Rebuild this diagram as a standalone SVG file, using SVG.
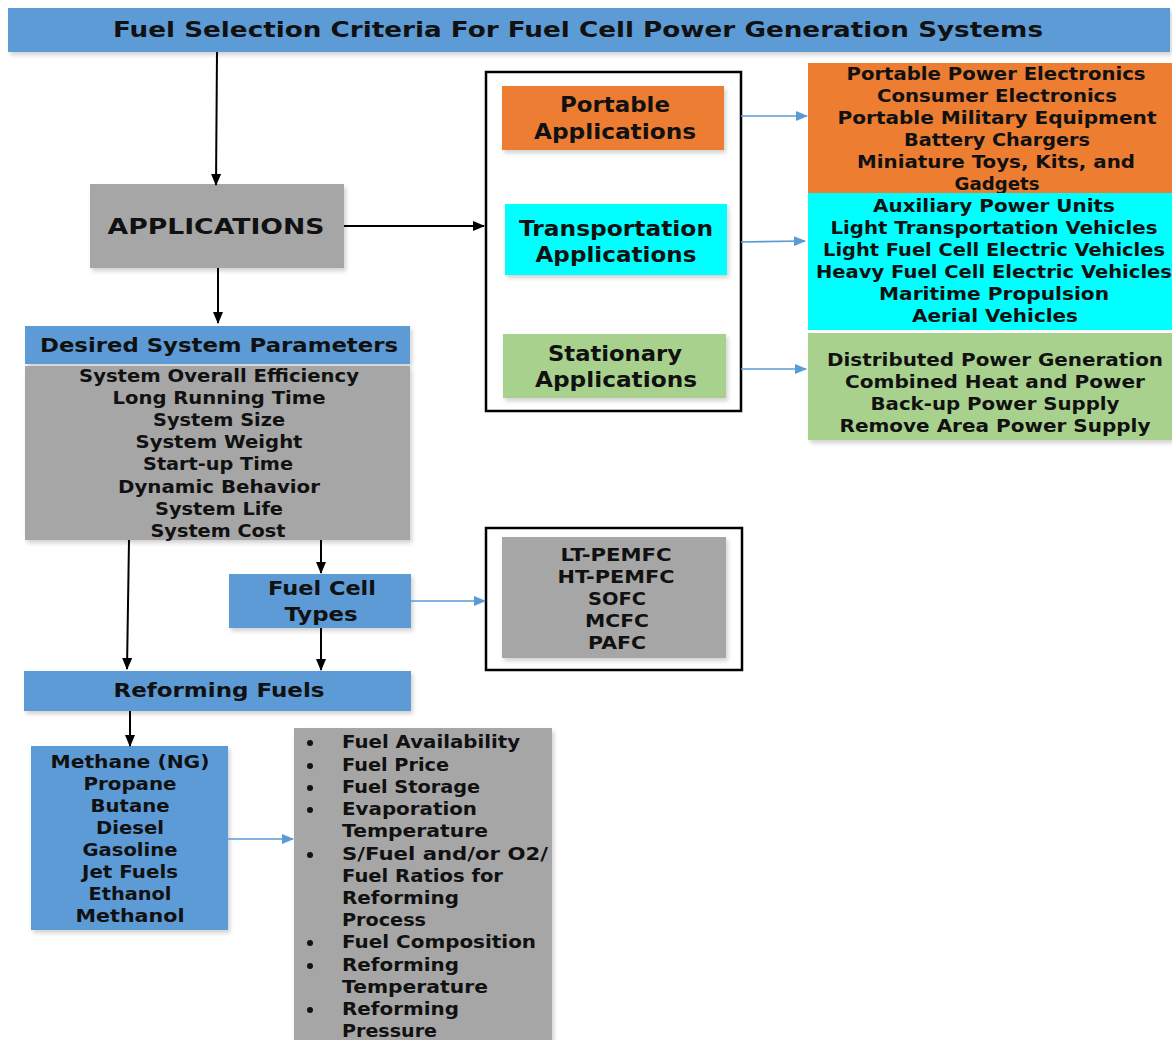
<svg xmlns="http://www.w3.org/2000/svg" width="1172" height="1040" viewBox="0 0 1172 1040">
<defs>
<filter id="sh" x="-5%" y="-5%" width="115%" height="120%">
<feDropShadow dx="2" dy="3" stdDeviation="2" flood-color="#000" flood-opacity="0.18"/>
</filter>
<marker id="ab" markerWidth="12" markerHeight="10" refX="11" refY="5" orient="auto" markerUnits="userSpaceOnUse">
<path d="M0,0 L12,5 L0,10 Z" fill="#000"/>
</marker>
<marker id="au" markerWidth="12" markerHeight="10" refX="11" refY="5" orient="auto" markerUnits="userSpaceOnUse">
<path d="M0,0 L12,5 L0,10 Z" fill="#5b9bd5"/>
</marker>
</defs>
<style>
text{font-family:"DejaVu Sans","Liberation Sans",sans-serif;font-weight:bold;fill:#111;text-anchor:middle}
.t{font-size:21px}
.m{font-size:20px}
.s{font-size:17px}
.l{text-anchor:start}
.blue{fill:#5b9bd5}
.gray{fill:#a6a6a6}
.orange{fill:#ed7d31}
.cyan{fill:#00ffff}
.green{fill:#a9d18e}
.frame{fill:none;stroke:#000;stroke-width:2.5}
.cb{stroke:#000;stroke-width:2;fill:none}
.cu{stroke:#5b9bd5;stroke-width:1.6;fill:none}
</style>

<g id="title">
<rect class="blue" x="8" y="8" width="1162" height="44" filter="url(#sh)"/>
<text class="t" x="578" y="37" textLength="930" lengthAdjust="spacingAndGlyphs">Fuel Selection Criteria For Fuel Cell Power Generation Systems</text>
</g>

<g id="applications">
<rect class="gray" x="90" y="184" width="254" height="84" filter="url(#sh)"/>
<text style="font-size:22px" x="216" y="234" textLength="217" lengthAdjust="spacingAndGlyphs">APPLICATIONS</text>
</g>

<g id="app-frame">
<rect class="frame" x="486" y="72" width="255" height="339"/>
</g>

<g id="portable">
<rect class="orange" x="502" y="86" width="222" height="64" filter="url(#sh)"/>
<text class="t" x="615" y="112" textLength="110" lengthAdjust="spacingAndGlyphs">Portable</text>
<text class="t" x="615" y="139" textLength="162" lengthAdjust="spacingAndGlyphs">Applications</text>
</g>

<g id="transportation">
<rect class="cyan" x="505" y="204" width="222" height="71" filter="url(#sh)"/>
<text class="t" x="616" y="236" textLength="194" lengthAdjust="spacingAndGlyphs">Transportation</text>
<text class="t" x="616" y="262" textLength="161" lengthAdjust="spacingAndGlyphs">Applications</text>
</g>

<g id="stationary">
<rect class="green" x="503" y="334" width="223" height="64" filter="url(#sh)"/>
<text class="t" x="615" y="361" textLength="134" lengthAdjust="spacingAndGlyphs">Stationary</text>
<text class="t" x="616" y="387" textLength="162" lengthAdjust="spacingAndGlyphs">Applications</text>
</g>

<g id="portable-list">
<rect class="orange" x="808" y="63" width="364" height="130"/>
<text class="s" x="996" y="80" textLength="299" lengthAdjust="spacingAndGlyphs">Portable Power Electronics</text>
<text class="s" x="997" y="102" textLength="240" lengthAdjust="spacingAndGlyphs">Consumer Electronics</text>
<text class="s" x="997" y="124" textLength="319" lengthAdjust="spacingAndGlyphs">Portable Military Equipment</text>
<text class="s" x="997" y="146" textLength="186" lengthAdjust="spacingAndGlyphs">Battery Chargers</text>
<text class="s" x="996" y="168" textLength="278" lengthAdjust="spacingAndGlyphs">Miniature Toys, Kits, and</text>
<text class="s" x="997" y="190" textLength="85" lengthAdjust="spacingAndGlyphs">Gadgets</text>
</g>

<g id="transport-list">
<rect class="cyan" x="808" y="193" width="364" height="137"/>
<text class="s" x="994" y="212" textLength="242" lengthAdjust="spacingAndGlyphs">Auxiliary Power Units</text>
<text class="s" x="994" y="234" textLength="327" lengthAdjust="spacingAndGlyphs">Light Transportation Vehicles</text>
<text class="s" x="994" y="256" textLength="342" lengthAdjust="spacingAndGlyphs">Light Fuel Cell Electric Vehicles</text>
<text class="s" x="994" y="278" textLength="356" lengthAdjust="spacingAndGlyphs">Heavy Fuel Cell Electric Vehicles</text>
<text class="s" x="994" y="300" textLength="230" lengthAdjust="spacingAndGlyphs">Maritime Propulsion</text>
<text class="s" x="995" y="322" textLength="166" lengthAdjust="spacingAndGlyphs">Aerial Vehicles</text>
</g>

<g id="stationary-list">
<rect class="green" x="808" y="333" width="364" height="107" filter="url(#sh)"/>
<text class="s" x="995" y="366" textLength="336" lengthAdjust="spacingAndGlyphs">Distributed Power Generation</text>
<text class="s" x="995" y="388" textLength="300" lengthAdjust="spacingAndGlyphs">Combined Heat and Power</text>
<text class="s" x="995" y="410" textLength="249" lengthAdjust="spacingAndGlyphs">Back-up Power Supply</text>
<text class="s" x="995" y="432" textLength="311" lengthAdjust="spacingAndGlyphs">Remove Area Power Supply</text>
</g>

<g id="desired-parameters">
<rect class="blue" x="25" y="326" width="385" height="38" filter="url(#sh)"/>
<text style="font-size:19px" x="219" y="352" textLength="358" lengthAdjust="spacingAndGlyphs">Desired System Parameters</text>
<rect class="gray" x="25" y="366" width="385" height="174" filter="url(#sh)"/>
<text class="s" x="219" y="382" textLength="280" lengthAdjust="spacingAndGlyphs">System Overall Efficiency</text>
<text class="s" x="219" y="404" textLength="213" lengthAdjust="spacingAndGlyphs">Long Running Time</text>
<text class="s" x="219" y="426" textLength="132" lengthAdjust="spacingAndGlyphs">System Size</text>
<text class="s" x="219" y="448" textLength="167" lengthAdjust="spacingAndGlyphs">System Weight</text>
<text class="s" x="218" y="470" textLength="150" lengthAdjust="spacingAndGlyphs">Start-up Time</text>
<text class="s" x="219" y="493" textLength="202" lengthAdjust="spacingAndGlyphs">Dynamic Behavior</text>
<text class="s" x="219" y="515" textLength="128" lengthAdjust="spacingAndGlyphs">System Life</text>
<text class="s" x="218" y="537" textLength="135" lengthAdjust="spacingAndGlyphs">System Cost</text>
</g>

<g id="fuel-cell-types">
<rect class="blue" x="229" y="574" width="182" height="54" filter="url(#sh)"/>
<text class="m" x="322" y="595" textLength="108" lengthAdjust="spacingAndGlyphs">Fuel Cell</text>
<text class="m" x="321" y="621" textLength="73" lengthAdjust="spacingAndGlyphs">Types</text>
</g>

<g id="fc-list">
<rect class="frame" x="486" y="528" width="256" height="142"/>
<rect class="gray" x="502" y="537" width="224" height="121" filter="url(#sh)"/>
<text class="s" x="616" y="561" textLength="111" lengthAdjust="spacingAndGlyphs">LT-PEMFC</text>
<text class="s" x="616" y="583" textLength="117" lengthAdjust="spacingAndGlyphs">HT-PEMFC</text>
<text class="s" x="617" y="605" textLength="58" lengthAdjust="spacingAndGlyphs">SOFC</text>
<text class="s" x="617" y="627" textLength="64" lengthAdjust="spacingAndGlyphs">MCFC</text>
<text class="s" x="617" y="649" textLength="58" lengthAdjust="spacingAndGlyphs">PAFC</text>
</g>

<g id="reforming-fuels">
<rect class="blue" x="24" y="671" width="387" height="40" filter="url(#sh)"/>
<text style="font-size:19px" x="219" y="697" textLength="211" lengthAdjust="spacingAndGlyphs">Reforming Fuels</text>
</g>

<g id="fuel-list">
<rect class="blue" x="31" y="746" width="197" height="184" filter="url(#sh)"/>
<text class="s" x="130" y="768" textLength="159" lengthAdjust="spacingAndGlyphs">Methane (NG)</text>
<text class="s" x="130" y="790" textLength="93" lengthAdjust="spacingAndGlyphs">Propane</text>
<text class="s" x="130" y="812" textLength="79" lengthAdjust="spacingAndGlyphs">Butane</text>
<text class="s" x="130" y="834" textLength="68" lengthAdjust="spacingAndGlyphs">Diesel</text>
<text class="s" x="130" y="856" textLength="95" lengthAdjust="spacingAndGlyphs">Gasoline</text>
<text class="s" x="130" y="878" textLength="96" lengthAdjust="spacingAndGlyphs">Jet Fuels</text>
<text class="s" x="130" y="900" textLength="83" lengthAdjust="spacingAndGlyphs">Ethanol</text>
<text class="s" x="130" y="922" textLength="109" lengthAdjust="spacingAndGlyphs">Methanol</text>
</g>

<g id="criteria">
<rect class="gray" x="294" y="728" width="258" height="320" filter="url(#sh)"/>
<g fill="#111">
<circle cx="310" cy="743" r="3"/>
<circle cx="310" cy="766" r="3"/>
<circle cx="310" cy="788" r="3"/>
<circle cx="310" cy="810" r="3"/>
<circle cx="310" cy="855" r="3"/>
<circle cx="310" cy="943" r="3"/>
<circle cx="310" cy="966" r="3"/>
<circle cx="310" cy="1010" r="3"/>
</g>
<text class="s l" x="342" y="748" textLength="178" lengthAdjust="spacingAndGlyphs">Fuel Availability</text>
<text class="s l" x="342" y="771" textLength="107" lengthAdjust="spacingAndGlyphs">Fuel Price</text>
<text class="s l" x="342" y="793" textLength="138" lengthAdjust="spacingAndGlyphs">Fuel Storage</text>
<text class="s l" x="342" y="815" textLength="135" lengthAdjust="spacingAndGlyphs">Evaporation</text>
<text class="s l" x="342" y="837" textLength="146" lengthAdjust="spacingAndGlyphs">Temperature</text>
<text class="s l" x="342" y="860" textLength="206" lengthAdjust="spacingAndGlyphs">S/Fuel and/or O2/</text>
<text class="s l" x="342" y="882" textLength="161" lengthAdjust="spacingAndGlyphs">Fuel Ratios for</text>
<text class="s l" x="342" y="904" textLength="117" lengthAdjust="spacingAndGlyphs">Reforming</text>
<text class="s l" x="342" y="926" textLength="84" lengthAdjust="spacingAndGlyphs">Process</text>
<text class="s l" x="342" y="948" textLength="194" lengthAdjust="spacingAndGlyphs">Fuel Composition</text>
<text class="s l" x="342" y="971" textLength="117" lengthAdjust="spacingAndGlyphs">Reforming</text>
<text class="s l" x="342" y="993" textLength="146" lengthAdjust="spacingAndGlyphs">Temperature</text>
<text class="s l" x="342" y="1015" textLength="117" lengthAdjust="spacingAndGlyphs">Reforming</text>
<text class="s l" x="342" y="1037" textLength="95" lengthAdjust="spacingAndGlyphs">Pressure</text>
</g>

<g id="connectors">
<line class="cb" x1="217" y1="52" x2="216" y2="185" marker-end="url(#ab)"/>
<line class="cb" x1="344" y1="226" x2="484" y2="226" marker-end="url(#ab)"/>
<line class="cb" x1="218" y1="268" x2="218" y2="323" marker-end="url(#ab)"/>
<line class="cb" x1="129" y1="540" x2="127" y2="669" marker-end="url(#ab)"/>
<line class="cb" x1="321" y1="540" x2="321" y2="573" marker-end="url(#ab)"/>
<line class="cb" x1="321" y1="628" x2="321" y2="670" marker-end="url(#ab)"/>
<line class="cb" x1="130" y1="711" x2="130" y2="746" marker-end="url(#ab)"/>
<line class="cu" x1="741" y1="116" x2="807" y2="116" marker-end="url(#au)"/>
<line class="cu" x1="741" y1="242" x2="805" y2="241" marker-end="url(#au)"/>
<line class="cu" x1="741" y1="369" x2="806" y2="369" marker-end="url(#au)"/>
<line class="cu" x1="411" y1="601" x2="485" y2="601" marker-end="url(#au)"/>
<line class="cu" x1="228" y1="839" x2="293" y2="839" marker-end="url(#au)"/>
</g>
</svg>
